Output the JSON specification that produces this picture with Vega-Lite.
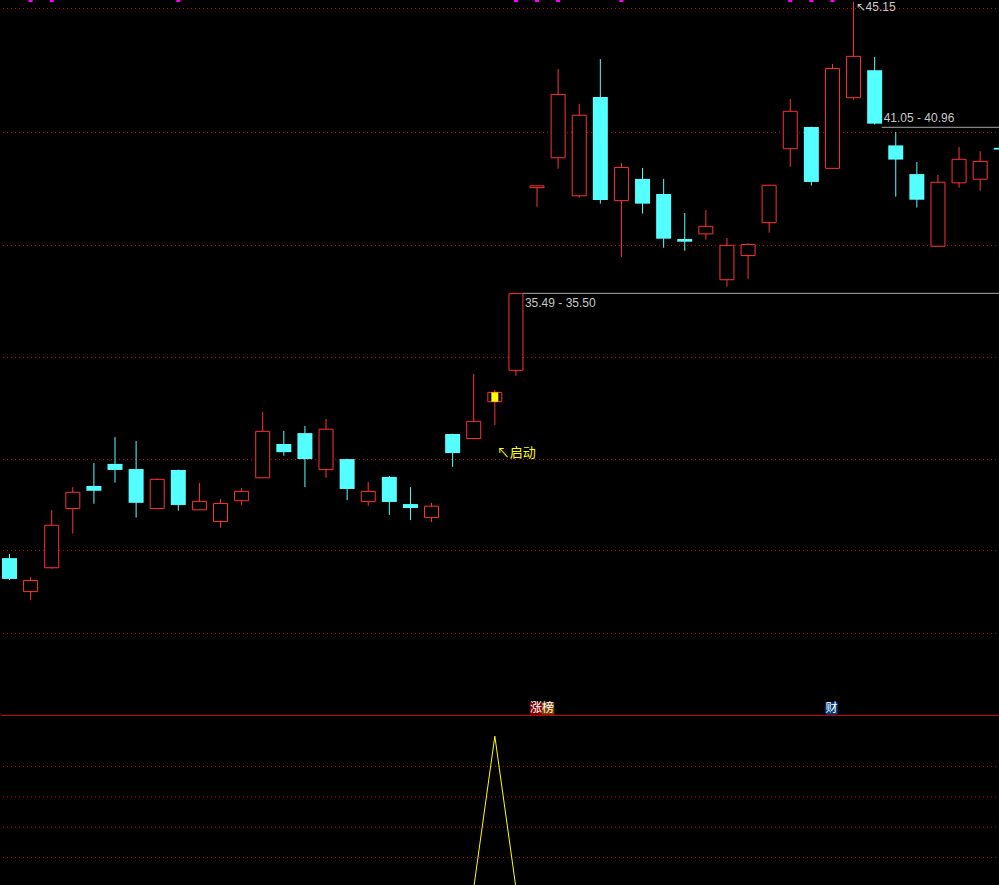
{
  "$schema": "https://vega.github.io/schema/vega-lite/v6.json",
  "background": "#000000",
  "padding": 0,
  "spacing": 0,
  "config": {"view": {"stroke": null}, "font": "Liberation Sans", "scale": {"continuousPadding": 0}},
  "datasets": {
    "candles": [
      {"i": 0, "o": 26.73, "h": 26.87, "l": 26.00, "c": 26.04},
      {"i": 1, "o": 25.62, "h": 26.10, "l": 25.34, "c": 25.99},
      {"i": 2, "o": 26.41, "h": 28.32, "l": 26.38, "c": 27.82},
      {"i": 3, "o": 28.37, "h": 29.08, "l": 27.54, "c": 28.91},
      {"i": 4, "o": 29.12, "h": 29.88, "l": 28.53, "c": 28.96},
      {"i": 5, "o": 29.85, "h": 30.74, "l": 29.23, "c": 29.65},
      {"i": 6, "o": 29.68, "h": 30.61, "l": 28.07, "c": 28.56},
      {"i": 7, "o": 28.37, "h": 29.37, "l": 28.36, "c": 29.34},
      {"i": 8, "o": 29.65, "h": 29.66, "l": 28.30, "c": 28.49},
      {"i": 9, "o": 28.33, "h": 29.22, "l": 28.32, "c": 28.61},
      {"i": 10, "o": 27.94, "h": 28.69, "l": 27.74, "c": 28.54},
      {"i": 11, "o": 28.63, "h": 29.05, "l": 28.49, "c": 28.94},
      {"i": 12, "o": 29.39, "h": 31.57, "l": 29.38, "c": 30.93},
      {"i": 13, "o": 30.51, "h": 30.94, "l": 30.12, "c": 30.24},
      {"i": 14, "o": 30.87, "h": 31.11, "l": 29.08, "c": 30.01},
      {"i": 15, "o": 29.66, "h": 31.34, "l": 29.39, "c": 31.00},
      {"i": 16, "o": 30.01, "h": 30.02, "l": 28.65, "c": 29.02},
      {"i": 17, "o": 28.60, "h": 29.25, "l": 28.46, "c": 28.94},
      {"i": 18, "o": 29.42, "h": 29.45, "l": 28.16, "c": 28.59},
      {"i": 19, "o": 28.52, "h": 29.08, "l": 27.99, "c": 28.39},
      {"i": 20, "o": 28.07, "h": 28.56, "l": 27.93, "c": 28.45},
      {"i": 21, "o": 30.84, "h": 30.85, "l": 29.75, "c": 30.21},
      {"i": 22, "o": 30.69, "h": 32.83, "l": 30.68, "c": 31.26},
      {"i": 23, "o": 31.91, "h": 32.30, "l": 31.14, "c": 32.22, "sig": 1},
      {"i": 24, "o": 32.95, "h": 35.49, "l": 32.77, "c": 35.49},
      {"i": 25, "o": 39.00, "h": 39.06, "l": 38.37, "c": 39.06},
      {"i": 26, "o": 39.99, "h": 42.93, "l": 39.63, "c": 42.09},
      {"i": 27, "o": 38.73, "h": 41.77, "l": 38.67, "c": 41.40},
      {"i": 28, "o": 42.00, "h": 43.26, "l": 38.47, "c": 38.59},
      {"i": 29, "o": 38.57, "h": 39.82, "l": 36.71, "c": 39.67},
      {"i": 30, "o": 39.29, "h": 39.65, "l": 38.14, "c": 38.47},
      {"i": 31, "o": 38.79, "h": 39.29, "l": 37.01, "c": 37.31},
      {"i": 32, "o": 37.30, "h": 38.16, "l": 36.91, "c": 37.21},
      {"i": 33, "o": 37.47, "h": 38.26, "l": 37.28, "c": 37.72},
      {"i": 34, "o": 35.95, "h": 37.33, "l": 35.72, "c": 37.09},
      {"i": 35, "o": 36.75, "h": 37.16, "l": 35.98, "c": 37.12},
      {"i": 36, "o": 37.84, "h": 39.08, "l": 37.51, "c": 39.08},
      {"i": 37, "o": 40.29, "h": 41.94, "l": 39.69, "c": 41.53},
      {"i": 38, "o": 41.01, "h": 41.02, "l": 39.07, "c": 39.19},
      {"i": 39, "o": 39.64, "h": 43.10, "l": 39.63, "c": 42.95},
      {"i": 40, "o": 41.98, "h": 45.15, "l": 41.91, "c": 43.35},
      {"i": 41, "o": 42.89, "h": 43.33, "l": 41.09, "c": 41.12},
      {"i": 42, "o": 40.40, "h": 40.84, "l": 38.70, "c": 39.93},
      {"i": 43, "o": 39.45, "h": 39.85, "l": 38.34, "c": 38.60},
      {"i": 44, "o": 37.06, "h": 39.42, "l": 37.05, "c": 39.18},
      {"i": 45, "o": 39.16, "h": 40.35, "l": 39.00, "c": 39.94},
      {"i": 46, "o": 39.28, "h": 40.21, "l": 38.90, "c": 39.87},
      {"i": 47, "o": 40.32, "h": 40.33, "l": 40.25, "c": 40.26}
    ],
    "grid": [{"g": 44.934}, {"g": 40.827}, {"g": 37.084}, {"g": 33.375}, {"g": 29.996}, {"g": 26.982}, {"g": 24.233}],
    "tops": [{"i": 1}, {"i": 2}, {"i": 8}, {"i": 24}, {"i": 25}, {"i": 26}, {"i": 29}, {"i": 37}, {"i": 38}, {"i": 39}],
    "gaps": [
      {"i": 24, "p": 35.50, "t": "35.49 - 35.50"},
      {"i": 41, "p": 41.00, "t": "41.05 - 40.96"}
    ],
    "tags": [
      {"i": 25, "t": "涨", "k": 0},
      {"i": 25, "t": "榜", "k": 1},
      {"i": 39, "t": "财", "k": 0}
    ],
    "ind": [
      {"i": 0, "v": 0}, {"i": 1, "v": 0}, {"i": 2, "v": 0}, {"i": 3, "v": 0}, {"i": 4, "v": 0}, {"i": 5, "v": 0},
      {"i": 6, "v": 0}, {"i": 7, "v": 0}, {"i": 8, "v": 0}, {"i": 9, "v": 0}, {"i": 10, "v": 0}, {"i": 11, "v": 0},
      {"i": 12, "v": 0}, {"i": 13, "v": 0}, {"i": 14, "v": 0}, {"i": 15, "v": 0}, {"i": 16, "v": 0}, {"i": 17, "v": 0},
      {"i": 18, "v": 0}, {"i": 19, "v": 0}, {"i": 20, "v": 0}, {"i": 21, "v": 0}, {"i": 22, "v": 0}, {"i": 23, "v": 1},
      {"i": 24, "v": 0}, {"i": 25, "v": 0}, {"i": 26, "v": 0}, {"i": 27, "v": 0}, {"i": 28, "v": 0}, {"i": 29, "v": 0},
      {"i": 30, "v": 0}, {"i": 31, "v": 0}, {"i": 32, "v": 0}, {"i": 33, "v": 0}, {"i": 34, "v": 0}, {"i": 35, "v": 0},
      {"i": 36, "v": 0}, {"i": 37, "v": 0}, {"i": 38, "v": 0}, {"i": 39, "v": 0}, {"i": 40, "v": 0}, {"i": 41, "v": 0},
      {"i": 42, "v": 0}, {"i": 43, "v": 0}, {"i": 44, "v": 0}, {"i": 45, "v": 0}, {"i": 46, "v": 0}, {"i": 47, "v": 0}
    ],
    "igrid": [{"g": 0.2}, {"g": 0.4}, {"g": 0.6}, {"g": 0.8}]
  },
  "vconcat": [
    {
      "width": 999,
      "height": 716,
      "layer": [
        {
          "data": {"name": "grid"},
          "mark": {"type": "rule", "stroke": "#D00000", "strokeDash": [1, 3], "strokeWidth": 1},
          "encoding": {
            "y": {"field": "g", "type": "quantitative", "scale": {"domain": [21.5, 45.216], "nice": false, "zero": false, "padding": 0}, "axis": null}
          }
        },
        {
          "data": {"name": "igrid"},
          "transform": [{"filter": "datum.g == 0.2"}],
          "mark": {"type": "rule", "stroke": "#D00000", "strokeWidth": 1, "yOffset": -0.5},
          "encoding": {
            "y": {"datum": 21.5, "type": "quantitative", "scale": {"domain": [21.5, 45.216], "nice": false, "zero": false, "padding": 0}, "axis": null}
          }
        },
        {
          "data": {"name": "candles"},
          "mark": {"type": "rule", "strokeWidth": 1, "clip": true},
          "encoding": {
            "x": {"field": "i", "type": "quantitative", "scale": {"domain": [-0.403, 46.94], "nice": false, "zero": false, "padding": 0}, "axis": null},
            "y": {"field": "l", "type": "quantitative", "scale": {"domain": [21.5, 45.216], "nice": false, "zero": false, "padding": 0}, "axis": null},
            "y2": {"field": "h"},
            "stroke": {"condition": {"test": "datum.c >= datum.o", "value": "#FF3232"}, "value": "#54FFFF"}
          }
        },
        {
          "data": {"name": "candles"},
          "transform": [{"filter": "datum.c >= datum.o"}],
          "mark": {"type": "bar", "size": 14, "fill": "#000000", "stroke": "#FF3232", "strokeWidth": 1, "clip": true},
          "encoding": {
            "x": {"field": "i", "type": "quantitative", "scale": {"domain": [-0.403, 46.94], "nice": false, "zero": false, "padding": 0}, "axis": null},
            "y": {"field": "o", "type": "quantitative", "scale": {"domain": [21.5, 45.216], "nice": false, "zero": false, "padding": 0}, "axis": null},
            "y2": {"field": "c"}
          }
        },
        {
          "data": {"name": "candles"},
          "transform": [{"filter": "datum.c < datum.o"}],
          "mark": {"type": "bar", "size": 15, "fill": "#54FFFF", "clip": true},
          "encoding": {
            "x": {"field": "i", "type": "quantitative", "scale": {"domain": [-0.403, 46.94], "nice": false, "zero": false, "padding": 0}, "axis": null},
            "y": {"field": "o", "type": "quantitative", "scale": {"domain": [21.5, 45.216], "nice": false, "zero": false, "padding": 0}, "axis": null},
            "y2": {"field": "c"}
          }
        },
        {
          "data": {"name": "candles"},
          "transform": [{"filter": "datum.sig == 1"}],
          "mark": {"type": "bar", "size": 7, "fill": "#FFFF00", "clip": true},
          "encoding": {
            "x": {"field": "i", "type": "quantitative", "scale": {"domain": [-0.403, 46.94], "nice": false, "zero": false, "padding": 0}, "axis": null},
            "y": {"field": "o", "type": "quantitative", "scale": {"domain": [21.5, 45.216], "nice": false, "zero": false, "padding": 0}, "axis": null},
            "y2": {"field": "c"}
          }
        },
        {
          "data": {"name": "candles"},
          "transform": [{"filter": "datum.sig == 1"}],
          "mark": {"type": "text", "align": "left", "baseline": "middle", "dx": 2, "dy": 28, "color": "#FFFF00", "font": "Noto Sans CJK SC", "fontSize": 13, "text": "↖启动"},
          "encoding": {
            "x": {"field": "i", "type": "quantitative", "scale": {"domain": [-0.403, 46.94], "nice": false, "zero": false, "padding": 0}, "axis": null},
            "y": {"field": "l", "type": "quantitative", "scale": {"domain": [21.5, 45.216], "nice": false, "zero": false, "padding": 0}, "axis": null}
          }
        },
        {
          "data": {"name": "candles"},
          "transform": [
            {"joinaggregate": [{"op": "max", "field": "h", "as": "mh"}]},
            {"filter": "datum.h == datum.mh"},
            {"calculate": "'↖' + format(datum.h, '.2f')", "as": "lab"}
          ],
          "mark": {"type": "text", "align": "left", "baseline": "middle", "dx": 2, "dy": 5, "color": "#C8C8C8", "fontSize": 12},
          "encoding": {
            "x": {"field": "i", "type": "quantitative", "scale": {"domain": [-0.403, 46.94], "nice": false, "zero": false, "padding": 0}, "axis": null},
            "y": {"field": "h", "type": "quantitative", "scale": {"domain": [21.5, 45.216], "nice": false, "zero": false, "padding": 0}, "axis": null},
            "text": {"field": "lab"}
          }
        },
        {
          "data": {"name": "tops"},
          "mark": {"type": "point", "shape": "square", "filled": true, "size": 16, "color": "#FF00FF", "opacity": 1, "clip": true},
          "encoding": {
            "x": {"field": "i", "type": "quantitative", "scale": {"domain": [-0.403, 46.94], "nice": false, "zero": false, "padding": 0}, "axis": null},
            "y": {"datum": 45.216, "type": "quantitative", "scale": {"domain": [21.5, 45.216], "nice": false, "zero": false, "padding": 0}, "axis": null}
          }
        },
        {
          "data": {"name": "gaps"},
          "mark": {"type": "rule", "stroke": "#A8A8A8", "strokeWidth": 1, "xOffset": 7, "clip": true},
          "encoding": {
            "x": {"field": "i", "type": "quantitative", "scale": {"domain": [-0.403, 46.94], "nice": false, "zero": false, "padding": 0}, "axis": null},
            "x2": {"datum": 48},
            "y": {"field": "p", "type": "quantitative", "scale": {"domain": [21.5, 45.216], "nice": false, "zero": false, "padding": 0}, "axis": null}
          }
        },
        {
          "data": {"name": "gaps"},
          "transform": [{"filter": "datum.i == 24"}],
          "mark": {"type": "text", "align": "left", "baseline": "middle", "dx": 9, "dy": 10, "color": "#C8C8C8", "fontSize": 12},
          "encoding": {
            "x": {"field": "i", "type": "quantitative", "scale": {"domain": [-0.403, 46.94], "nice": false, "zero": false, "padding": 0}, "axis": null},
            "y": {"field": "p", "type": "quantitative", "scale": {"domain": [21.5, 45.216], "nice": false, "zero": false, "padding": 0}, "axis": null},
            "text": {"field": "t"}
          }
        },
        {
          "data": {"name": "gaps"},
          "transform": [{"filter": "datum.i == 41"}],
          "mark": {"type": "text", "align": "left", "baseline": "middle", "dx": 9, "dy": -9, "color": "#C8C8C8", "fontSize": 12},
          "encoding": {
            "x": {"field": "i", "type": "quantitative", "scale": {"domain": [-0.403, 46.94], "nice": false, "zero": false, "padding": 0}, "axis": null},
            "y": {"field": "p", "type": "quantitative", "scale": {"domain": [21.5, 45.216], "nice": false, "zero": false, "padding": 0}, "axis": null},
            "text": {"field": "t"}
          }
        },
        {
          "data": {"name": "tags"},
          "transform": [{"filter": "datum.k == 0"}],
          "mark": {"type": "point", "shape": "square", "filled": true, "size": 156, "opacity": 1, "xOffset": -1, "yOffset": -7.5},
          "encoding": {
            "x": {"field": "i", "type": "quantitative", "scale": {"domain": [-0.403, 46.94], "nice": false, "zero": false, "padding": 0}, "axis": null},
            "y": {"datum": 21.5, "type": "quantitative", "scale": {"domain": [21.5, 45.216], "nice": false, "zero": false, "padding": 0}, "axis": null},
            "color": {"field": "t", "type": "nominal", "scale": {"domain": ["涨", "榜", "财"], "range": ["#800000", "#804000", "#004080"]}, "legend": null}
          }
        },
        {
          "data": {"name": "tags"},
          "transform": [{"filter": "datum.k == 1"}],
          "mark": {"type": "point", "shape": "square", "filled": true, "size": 156, "opacity": 1, "xOffset": 11, "yOffset": -7.5},
          "encoding": {
            "x": {"field": "i", "type": "quantitative", "scale": {"domain": [-0.403, 46.94], "nice": false, "zero": false, "padding": 0}, "axis": null},
            "y": {"datum": 21.5, "type": "quantitative", "scale": {"domain": [21.5, 45.216], "nice": false, "zero": false, "padding": 0}, "axis": null},
            "color": {"field": "t", "type": "nominal", "scale": {"domain": ["涨", "榜", "财"], "range": ["#800000", "#804000", "#004080"]}, "legend": null}
          }
        },
        {
          "data": {"name": "tags"},
          "transform": [{"filter": "datum.k == 0"}],
          "mark": {"type": "text", "align": "center", "baseline": "middle", "dx": -1, "dy": -8, "color": "#FFFFFF", "font": "Noto Sans CJK SC", "fontSize": 12},
          "encoding": {
            "x": {"field": "i", "type": "quantitative", "scale": {"domain": [-0.403, 46.94], "nice": false, "zero": false, "padding": 0}, "axis": null},
            "y": {"datum": 21.5, "type": "quantitative", "scale": {"domain": [21.5, 45.216], "nice": false, "zero": false, "padding": 0}, "axis": null},
            "text": {"field": "t"}
          }
        },
        {
          "data": {"name": "tags"},
          "transform": [{"filter": "datum.k == 1"}],
          "mark": {"type": "text", "align": "center", "baseline": "middle", "dx": 11, "dy": -8, "color": "#FFFFFF", "font": "Noto Sans CJK SC", "fontSize": 12},
          "encoding": {
            "x": {"field": "i", "type": "quantitative", "scale": {"domain": [-0.403, 46.94], "nice": false, "zero": false, "padding": 0}, "axis": null},
            "y": {"datum": 21.5, "type": "quantitative", "scale": {"domain": [21.5, 45.216], "nice": false, "zero": false, "padding": 0}, "axis": null},
            "text": {"field": "t"}
          }
        }
      ]
    },
    {
      "width": 999,
      "height": 169,
      "layer": [
        {
          "data": {"name": "igrid"},
          "mark": {"type": "rule", "stroke": "#D00000", "strokeDash": [1, 3], "strokeWidth": 1},
          "encoding": {
            "y": {"field": "g", "type": "quantitative", "scale": {"domain": [0.0187, 1.133], "nice": false, "zero": false, "padding": 0}, "axis": null}
          }
        },
        {
          "data": {"name": "ind"},
          "mark": {"type": "line", "stroke": "#FFFF00", "strokeWidth": 1, "clip": true},
          "encoding": {
            "x": {"field": "i", "type": "quantitative", "scale": {"domain": [-0.403, 46.94], "nice": false, "zero": false, "padding": 0}, "axis": null},
            "y": {"field": "v", "type": "quantitative", "scale": {"domain": [0.0187, 1.133], "nice": false, "zero": false, "padding": 0}, "axis": null}
          }
        }
      ]
    }
  ]
}
